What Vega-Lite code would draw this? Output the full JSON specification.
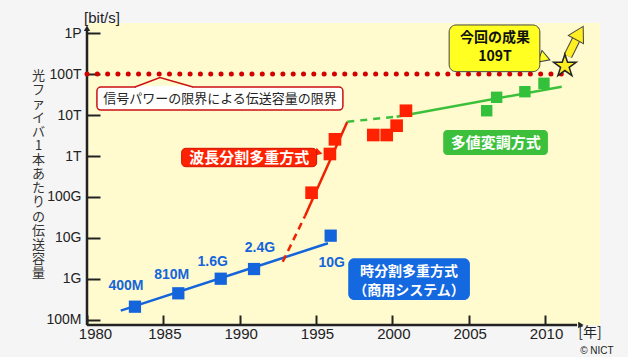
{
  "$schema": "https://vega.github.io/schema/vega-lite/v6.json",
  "width": 513,
  "height": 302,
  "autosize": {"type": "none"},
  "padding": {"left": 87, "top": 23, "right": 28, "bottom": 32},
  "background": "#f5f5f5",
  "config": {"view": {"fill": "#fffbcf", "stroke": null}},
  "encoding": {
    "x": {"field": "year", "type": "quantitative",
      "scale": {"domain": [1980, 2013.6], "nice": false, "zero": false},
      "axis": {"values": [1980, 1985, 1990, 1995, 2000, 2005, 2010], "format": "d", "domain": false, "grid": false,
        "tickSize": -10, "tickWidth": 2, "tickColor": "#222", "labelFontSize": 15, "labelFont": "Liberation Sans",
        "labelColor": "#222", "labelPadding": 11, "labelFlush": false, "labelOverlap": false,
        "labelOffset": {"condition": {"test": "datum.value === 1980", "value": 8}, "value": 1}, "title": null}},
    "y": {"field": "v", "type": "quantitative",
      "scale": {"type": "log", "domain": [7.55e7, 1.754e15], "nice": false},
      "axis": {"values": [1e8, 1e9, 1e10, 1e11, 1e12, 1e13, 1e14, 1e15],
        "labelExpr": "datum.value >= 9e14 ? '1P' : datum.value >= 9e13 ? '100T' : datum.value >= 9e12 ? '10T' : datum.value >= 9e11 ? '1T' : datum.value >= 9e10 ? '100G' : datum.value >= 9e9 ? '10G' : datum.value >= 9e8 ? '1G' : '100M'",
        "domain": false, "grid": false, "tickSize": -13, "tickWidth": 2, "tickColor": "#222",
        "labelFontSize": 14, "labelFont": "Liberation Sans", "labelColor": "#222", "labelPadding": 19, "labelOverlap": false,
        "title": ["光","フ","ァ","イ","バ","1","本","あ","た","り","の","伝","送","容","量"],
        "titleAngle": 0, "titleX": -49, "titleY": 46, "titleAlign": "center", "titleBaseline": "top",
        "titleFont": "Noto Sans CJK JP", "titleFontSize": 13, "titleFontWeight": "normal", "titleLineHeight": 14.1, "titleColor": "#333"}}
  },
  "layer": [
    {"data": {"values": [{"year": 1980, "v": 7.55e7, "v2": 1.18e15}]},
     "mark": {"type": "rule", "color": "#222", "strokeWidth": 2.5, "clip": false},
     "encoding": {"y2": {"field": "v2"}}},
    {"data": {"values": [{"year": 1980, "year2": 2012.1, "v": 7.55e7}]},
     "mark": {"type": "rule", "color": "#222", "strokeWidth": 2.5, "clip": false},
     "encoding": {"x2": {"field": "year2"}}},
    {"data": {"values": [{"year": 1980, "v": 1.3e15, "dir": "up"}]},
     "mark": {"type": "point", "shape": "triangle-up", "filled": true, "color": "#222", "size": 40, "opacity": 1},
     "encoding": {}},
    {"data": {"values": [{"year": 2012.35, "v": 7.55e7, "dir": "right"}]},
     "mark": {"type": "point", "shape": "triangle-right", "filled": true, "color": "#222", "size": 40, "opacity": 1},
     "encoding": {}},
    {"data": {"values": [{"year": 1980, "year2": 2011.6, "v": 1e14}]},
     "mark": {"type": "rule", "color": "#d40000", "strokeWidth": 5, "strokeCap": "round", "strokeDash": [0.01, 10.3]},
     "encoding": {"x2": {"field": "year2"}}},
    {"data": {"values": [{"year": 1980.65, "year2": 1996.76, "v": 1.32e13, "v2": 4.82e13}]},
     "mark": {"type": "rect", "fill": "#ffffff", "stroke": "#cc1111", "strokeWidth": 1.5, "cornerRadius": 4},
     "encoding": {"x2": {"field": "year2"}, "y2": {"field": "v2"}}},
    {"data": {"values": [{"year": 1983.2, "year2": 1986.9, "v": 4.82e13}]},
     "mark": {"type": "rule", "color": "#ffffff", "strokeWidth": 2.5},
     "encoding": {"x2": {"field": "year2"}}},
    {"data": {"values": [{"year": 1983.14, "v": 4.82e13}, {"year": 1984.78, "v": 8.22e13}, {"year": 1986.94, "v": 4.82e13}]},
     "mark": {"type": "line", "color": "#cc1111", "strokeWidth": 1.5},
     "encoding": {}},
    {"data": {"values": [{"year": 1988.71, "v": 2.52e13, "label": "信号パワーの限界による伝送容量の限界"}]},
     "mark": {"type": "text", "font": "Noto Sans CJK JP", "fontSize": 13, "color": "#222", "align": "center", "baseline": "middle"},
     "encoding": {"text": {"field": "label"}}},
    {"data": {"values": [{"year": 1982.21, "v": 1.69e8}, {"year": 1995.78, "v": 7.43e9}]},
     "mark": {"type": "line", "color": "#1464dc", "strokeWidth": 2.5},
     "encoding": {}},
    {"data": {"values": [{"year": 1992.82, "v": 2.64e9}, {"year": 1994.28, "v": 3.44e10}]},
     "mark": {"type": "line", "color": "#ee2200", "strokeWidth": 2.5, "strokeDash": [7, 5]},
     "encoding": {}},
    {"data": {"values": [{"year": 1994.28, "v": 3.44e10}, {"year": 1997.05, "v": 6.87e12}]},
     "mark": {"type": "line", "color": "#ee2200", "strokeWidth": 2.5},
     "encoding": {}},
    {"data": {"values": [{"year": 1997.05, "v": 6.87e12}, {"year": 2000.28, "v": 9.1e12}]},
     "mark": {"type": "line", "color": "#3cc03c", "strokeWidth": 2.5, "strokeDash": [7, 6]},
     "encoding": {}},
    {"data": {"values": [{"year": 2000.28, "v": 9.1e12}, {"year": 2011.09, "v": 4.9e13}]},
     "mark": {"type": "line", "color": "#3cc03c", "strokeWidth": 2.5},
     "encoding": {}},
    {"data": {"values": [
      {"year": 1983.14, "v": 2.11e8}, {"year": 1985.98, "v": 4.48e8}, {"year": 1988.76, "v": 1.016e9},
      {"year": 1990.94, "v": 1.75e9}, {"year": 1995.96, "v": 1.14e10}]},
     "mark": {"type": "point", "shape": "square", "filled": true, "color": "#1464dc", "size": 150, "opacity": 1},
     "encoding": {}},
    {"data": {"values": [
      {"year": 1994.71, "v": 1.27e11}, {"year": 1995.91, "v": 1.12e12}, {"year": 1996.24, "v": 2.55e12},
      {"year": 1998.75, "v": 3.25e12}, {"year": 1999.63, "v": 3.25e12}, {"year": 2000.28, "v": 5.48e12},
      {"year": 2000.89, "v": 1.27e13}]},
     "mark": {"type": "point", "shape": "square", "filled": true, "color": "#ff2200", "size": 160, "opacity": 1},
     "encoding": {}},
    {"data": {"values": [
      {"year": 2006.18, "v": 1.27e13}, {"year": 2006.83, "v": 2.7e13}, {"year": 2008.68, "v": 3.7e13},
      {"year": 2009.93, "v": 5.93e13}]},
     "mark": {"type": "point", "shape": "square", "filled": true, "color": "#33c03a", "size": 130, "opacity": 1},
     "encoding": {}},
    {"data": {"values": [
      {"year": 1982.55, "v": 6.74e8, "label": "400M"}, {"year": 1985.55, "v": 1.25e9, "label": "810M"},
      {"year": 1988.23, "v": 2.64e9, "label": "1.6G"}, {"year": 1991.33, "v": 5.8e9, "label": "2.4G"},
      {"year": 1996.03, "v": 2.42e9, "label": "10G"}]},
     "mark": {"type": "text", "font": "Liberation Sans", "fontSize": 14, "fontWeight": "bold", "color": "#1464dc", "align": "center", "baseline": "middle"},
     "encoding": {"text": {"field": "label"}}},
    {"data": {"values": [{"year": 1995.19, "v": 1.2e12}]},
     "mark": {"type": "point", "shape": "triangle-right", "angle": 15, "filled": true, "color": "#ff2200", "size": 70, "opacity": 1},
     "encoding": {}},
    {"data": {"values": [{"year": 1986.2, "year2": 1995.04, "v": 5.48e11, "v2": 1.54e12}]},
     "mark": {"type": "rect", "fill": "#ff2200", "stroke": "#d01000", "strokeWidth": 1, "cornerRadius": 4},
     "encoding": {"x2": {"field": "year2"}, "y2": {"field": "v2"}}},
    {"data": {"values": [{"year": 1990.62, "v": 9.18e11, "label": "波長分割多重方式"}]},
     "mark": {"type": "text", "font": "Noto Sans CJK JP", "fontSize": 15, "fontWeight": "bold", "color": "#ffffff", "align": "center", "baseline": "middle"},
     "encoding": {"text": {"field": "label"}}},
    {"data": {"values": [{"year": 2003.33, "year2": 2010.19, "v": 1.06e12, "v2": 4.3e12}]},
     "mark": {"type": "rect", "fill": "#3cc03c", "cornerRadius": 4},
     "encoding": {"x2": {"field": "year2"}, "y2": {"field": "v2"}}},
    {"data": {"values": [{"year": 2006.77, "v": 2.13e12, "label": "多値変調方式"}]},
     "mark": {"type": "text", "font": "Noto Sans CJK JP", "fontSize": 15, "fontWeight": "bold", "color": "#ffffff", "align": "center", "baseline": "middle"},
     "encoding": {"text": {"field": "label"}}},
    {"data": {"values": [{"year": 1997.11, "year2": 2005.08, "v": 3.07e8, "v2": 3.2e9}]},
     "mark": {"type": "rect", "fill": "#1468e0", "cornerRadius": 6},
     "encoding": {"x2": {"field": "year2"}, "y2": {"field": "v2"}}},
    {"data": {"values": [{"year": 2001.09, "v": 1.51e9, "label": "時分割多重方式\n（商用システム）"}]},
     "mark": {"type": "text", "font": "Noto Sans CJK JP", "fontSize": 14, "fontWeight": "bold", "color": "#ffffff", "align": "center", "baseline": "middle", "lineBreak": "\n", "lineHeight": 19},
     "encoding": {"text": {"field": "label"}}},
    {"data": {"values": [{"year": 2009.99, "v": 2.45e14}]},
     "mark": {"type": "point", "shape": "triangle-right", "angle": 20, "filled": true, "color": "#ffff22", "stroke": "#444", "strokeWidth": 1, "size": 150, "opacity": 1},
     "encoding": {}},
    {"data": {"values": [{"year": 2003.72, "year2": 2009.66, "v": 1.14e14, "v2": 1.57e15}]},
     "mark": {"type": "rect", "fill": "#ffff22", "stroke": "#444", "strokeWidth": 1, "cornerRadius": 7, "clip": false},
     "encoding": {"x2": {"field": "year2"}, "y2": {"field": "v2"}}},
    {"data": {"values": [{"year": 2006.72, "v": 7.4e14, "label": "今回の成果\n109T"}]},
     "mark": {"type": "text", "font": "Noto Sans CJK JP", "fontSize": 14, "fontWeight": "bold", "color": "#111", "align": "center", "baseline": "middle", "lineBreak": "\n", "lineHeight": 19},
     "encoding": {"text": {"field": "label"}}},
    {"data": {"values": [{"year": 2011.5, "v": 2.75e14}, {"year": 2012.15, "v": 8.45e14}]},
     "mark": {"type": "line", "color": "#444", "strokeWidth": 9, "clip": false},
     "encoding": {}},
    {"data": {"values": [{"year": 2011.5, "v": 2.75e14}, {"year": 2012.15, "v": 8.45e14}]},
     "mark": {"type": "line", "color": "#ffee22", "strokeWidth": 7, "clip": false},
     "encoding": {}},
    {"data": {"values": [{"year": 2012.26, "v": 1e15}]},
     "mark": {"type": "point", "shape": "triangle-up", "angle": 29, "filled": true, "color": "#ffee22", "stroke": "#444", "strokeWidth": 1, "size": 300, "opacity": 1},
     "encoding": {}},
    {"data": {"values": [{"year": 2011.3, "v": 1.567e14}]},
     "mark": {"type": "point", "shape": "M0,-1L0.225,-0.309L0.951,-0.309L0.363,0.118L0.588,0.809L0,0.382L-0.588,0.809L-0.363,0.118L-0.951,-0.309L-0.225,-0.309Z", "filled": true, "color": "#ffee22", "stroke": "#222", "strokeWidth": 1.5, "size": 560, "opacity": 1},
     "encoding": {}},
    {"data": {"values": [{"year": 1980.98, "v": 2.32e15, "label": "[bit/s]"}]},
     "mark": {"type": "text", "font": "Liberation Sans", "fontSize": 15, "color": "#222", "align": "center", "baseline": "middle", "clip": false},
     "encoding": {"text": {"field": "label"}}},
    {"data": {"values": [{"year": 2012.94, "v": 4.8e7, "label": "[年]"}]},
     "mark": {"type": "text", "font": "Noto Sans CJK JP", "fontSize": 14, "color": "#222", "align": "center", "baseline": "middle", "clip": false},
     "encoding": {"text": {"field": "label"}}},
    {"data": {"values": [{"year": 2013.4, "v": 1.75e7, "label": "© NICT"}]},
     "mark": {"type": "text", "font": "Liberation Sans", "fontSize": 10, "color": "#222", "align": "center", "baseline": "middle", "clip": false},
     "encoding": {"text": {"field": "label"}}}
  ]
}
